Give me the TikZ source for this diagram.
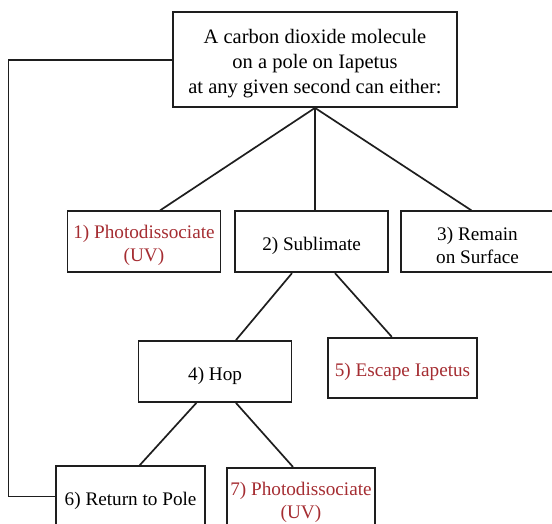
\documentclass[tikz,border=0pt]{standalone}
\usepackage{fontspec}
\setmainfont{Liberation Serif}
\definecolor{redt}{RGB}{165,45,50}
\definecolor{lin}{RGB}{30,30,30}
\tikzset{
  box/.style={draw=lin, line width=1.7pt, inner sep=0pt, minimum width=153pt, minimum height=61pt},
  bigbox/.style={box, minimum width=283.4pt, minimum height=94.7pt},
  txt/.style={align=center, font=\fontsize{19.2}{23}\selectfont, text=black, yshift=-4pt},
  bigtxt/.style={txt, font=\fontsize{20.5}{25}\selectfont},
  redtxt/.style={txt, text=redt},
  conn/.style={draw=lin, line width=1.7pt}
}
\begin{document}
\begin{tikzpicture}[x=1pt,y=-1pt]
\useasboundingbox (0,0) rectangle (552,524);
\clip (0,0) rectangle (552,524);
\node[bigbox, label={[bigtxt]center:{A carbon dioxide molecule\\on a pole on Iapetus\\at any given second can either:}}] (top) at (315,59.7) {};
\node[box, label={[redtxt]center:{1) Photodissociate\\(UV)}}] (b1) at (144,241.8) {};
\node[box, label={[txt]center:{2) Sublimate}}] (b2) at (311.6,241.8) {};
\node[box, label={[txt]center:{3) Remain\\on Surface}}] (b3) at (477.5,241.8) {};
\node[box, label={[txt]center:{4) Hop}}] (b4) at (215.1,371.5) {};
\node[box, minimum width=149pt, minimum height=60.6pt, label={[redtxt]center:{5) Escape Iapetus}}] (b5) at (402.5,368) {};
\node[box, minimum width=148.6pt, label={[txt]center:{6) Return to Pole}}] (b6) at (130.6,496.5) {};
\node[box, minimum width=148.6pt, label={[redtxt]center:{7) Photodissociate\\(UV)}}] (b7) at (301,498.2) {};
\coordinate (lx) at (8.4,0);
\draw[conn] (top.south) -- ([xshift=16pt]b1.north);
\draw[conn] (top.south) -- (top.south |- b2.north);
\draw[conn] (top.south) -- ([xshift=-6pt]b3.north);
\draw[conn] ([xshift=-19.6pt]b2.south) -- ([xshift=20.8pt]b4.north);
\draw[conn] ([xshift=23.4pt]b2.south) -- ([xshift=-10.7pt]b5.north);
\draw[conn] ([xshift=-18.7pt]b4.south) -- ([xshift=9.2pt]b6.north);
\draw[conn] ([xshift=20.8pt]b4.south) -- ([xshift=-8.1pt]b7.north);
\draw[conn] (top.west) -- (top.west -| lx) -- (b6.west -| lx) -- (b6.west);
\end{tikzpicture}
\end{document}
